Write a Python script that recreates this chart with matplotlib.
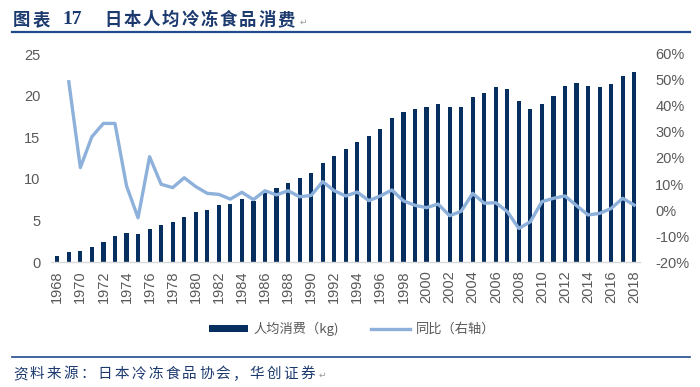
import matplotlib
matplotlib.use("Agg")
import matplotlib.pyplot as plt
from matplotlib.ticker import FuncFormatter

years = list(range(1968, 2019))
consumption = [0.72, 1.2, 1.3, 1.75, 2.35, 3.1, 3.5, 3.4, 4.0, 4.5,
               4.8, 5.4, 5.95, 6.3, 6.8, 7.0, 7.55, 7.35, 8.3, 8.9,
               9.55, 10.15, 10.7, 11.95, 12.75, 13.55, 14.45, 15.1, 16.0, 17.3,
               18.0, 18.4, 18.6, 19.05, 18.6, 18.6, 19.85, 20.35, 21.0, 20.75,
               19.3, 18.4, 19.05, 20.0, 21.1, 21.55, 21.1, 21.0, 21.35, 22.35,
               22.85]
growth_years = list(range(1969, 2019))
growth_pct = [49.3, 16.3, 28.2, 33.3, 33.3, 9.3, -3.0, 20.5, 9.9, 8.6,
              12.4, 9.0, 6.4, 6.0, 4.2, 6.8, 4.0, 7.4, 5.8, 7.4,
              5.1, 5.6, 10.9, 7.4, 5.4, 6.9, 3.6, 5.4, 7.7, 3.5,
              1.8, 0.9, 2.3, -2.2, -0.5, 6.4, 2.6, 2.8, -0.6, -7.1,
              -4.5, 3.2, 4.5, 5.4, 1.7, -1.9, -1.3, 0.6, 4.5, 1.9]
tick_years = list(range(1968, 2019, 2))

title_left = "图表"
title_num = "17"
title_right = "日本人均冷冻食品消费"
source_text = "资料来源：日本冷冻食品协会，华创证券"
bar_label = "人均消费（kg)"
line_label = "同比（右轴）"

BAR = "#062E5F"
LINE = "#8DB1DB"
TXT = "#595959"
TITLE_C = "#1C3A6E"

plt.rcParams['font.family'] = ['Liberation Sans', 'Noto Sans CJK SC', 'DejaVu Sans']
CJK = ['Noto Sans CJK SC', 'DejaVu Sans']

W, H = 700, 387
fig = plt.figure(figsize=(7, 3.87), dpi=100)
ax = fig.add_axes([51.5 / W, 1 - 262 / H, (640 - 51.5) / W, (262 - 54) / H])
ax2 = ax.twinx()

xpos = [y - 1968 for y in years]
ax.bar(xpos, consumption, width=0.36, color=BAR, label=bar_label)
gx = [y - 1968 for y in growth_years]
ax2.plot(gx, [g / 100 for g in growth_pct], color=LINE, lw=2.4, label=line_label,
         solid_joinstyle='round')

ax.set_xlim(-0.5, 50.5)
ax.set_ylim(0, 25)
ax.set_yticks(range(0, 26, 5))
ax2.set_ylim(-0.2, 0.6)
ax2.set_yticks([i / 10 for i in range(-2, 7)])
ax2.yaxis.set_major_formatter(FuncFormatter(lambda v, p: f"{round(v * 100):d}%"))
ax.set_xticks([y - 1968 for y in tick_years])
ax.set_xticklabels([str(y) for y in tick_years], rotation=90)

for a in (ax, ax2):
    for s in ('top', 'left', 'right', 'bottom'):
        a.spines[s].set_visible(False)
ax.spines['bottom'].set_visible(True)
ax.spines['bottom'].set_color('#D9D9D9')
ax.spines['bottom'].set_linewidth(1.0)

ax.tick_params(axis='y', length=0, pad=8, labelsize=10.5, labelcolor=TXT)
ax2.tick_params(axis='y', length=0, pad=11, labelsize=10.5, labelcolor=TXT)
ax.tick_params(axis='x', length=0, pad=6, labelsize=10.5, labelcolor=TXT)

# legend
h1, l1 = ax.get_legend_handles_labels()
h2, l2 = ax2.get_legend_handles_labels()
leg = fig.legend(h1 + h2, l1 + l2, loc='center', bbox_to_anchor=(352 / W, 1 - 329 / H),
                 ncol=2, frameon=False, prop={'family': CJK, 'size': 9.5},
                 handlelength=3.0, handleheight=0.5, handletextpad=0.4, columnspacing=2.4)
for t in leg.get_texts():
    t.set_color(TXT)

# title (characters spaced like the reference)
def spaced(text, x0, pitch, y, **kw):
    for i, ch in enumerate(text):
        fig.text((x0 + i * pitch) / W, 1 - y / H, ch, va='center', ha='left', **kw)

spaced(title_left, 13, 19.5, 20, family=CJK, fontsize=12.5, fontweight='bold', color=TITLE_C)
fig.text(62 / W, 1 - 20 / H, title_num, family=['Liberation Serif', 'DejaVu Serif'], fontsize=14,
         fontweight='bold', color=TITLE_C, va='center', ha='left')
spaced(title_right, 104, 19.3, 20, family=CJK, fontsize=12.5, fontweight='bold', color=TITLE_C)
fig.text(300 / W, 1 - 22 / H, "↵", family=['DejaVu Sans'], fontsize=6.5, color='#9A9A9A',
         va='center', ha='left')

fig.add_artist(plt.Line2D([12 / W, 690 / W], [1 - 31.5 / H, 1 - 31.5 / H],
                          color='#1F4A8C', lw=1.6, transform=fig.transFigure))
fig.add_artist(plt.Line2D([12 / W, 690 / W], [1 - 357 / H, 1 - 357 / H],
                          color='#1F4A8C', lw=1.2, transform=fig.transFigure))

spaced(source_text, 13, 16.9, 374, family=CJK, fontsize=10.5, color=TITLE_C)
fig.text(319 / W, 1 - 375 / H, "↵", family=['DejaVu Sans'], fontsize=6.5, color='#9A9A9A',
         va='center', ha='left')

fig.savefig("out.png", dpi=100)
